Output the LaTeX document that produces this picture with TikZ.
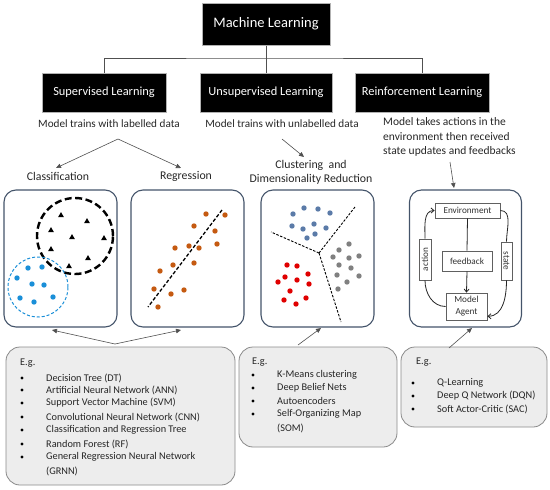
\documentclass[tikz,border=0pt]{standalone}
\usepackage{fontspec}
\setmainfont{Carlito}
\usetikzlibrary{arrows.meta}
\definecolor{panelc}{HTML}{44546A}
\definecolor{bluedot}{HTML}{1A8FD8}
\definecolor{orangedot}{HTML}{C55A11}
\definecolor{slatedot}{HTML}{5B7BA8}
\definecolor{graydot}{HTML}{808080}
\definecolor{reddot}{HTML}{E00000}
\definecolor{egfill}{HTML}{EDEDED}
\definecolor{egborder}{HTML}{8A8A8A}
\definecolor{linec}{HTML}{505050}
\tikzset{
  topbox/.style={fill=black, draw=gray!60, line width=1pt, text=white, inner sep=0pt},
  desc/.style={font=\fontsize{11.2}{14.5}\selectfont, inner sep=0pt, text=black!85},
  lab/.style={font=\fontsize{11.8}{14}\selectfont, inner sep=0pt, text=black!85},
  conn/.style={draw=linec, line width=0.6pt, -{Triangle[length=5pt,width=4.5pt]}},
  panel/.style={draw=panelc, line width=1.1pt, rounded corners=12pt, fill=white, inner sep=0pt},
  rlbox/.style={draw=gray!75!black, line width=0.8pt, fill=white, inner sep=0pt, font=\fontsize{9.2}{11}\selectfont, text=black!80},
  rlarrow/.style={draw=black!85, line width=0.8pt, -{Straight Barb[length=3pt,width=5pt]}},
  egbox/.style={fill=egfill, draw=egborder, line width=0.8pt, rounded corners=14pt, inner sep=0pt},
  item/.style={font=\fontsize{10.3}{11}\selectfont, anchor=west, inner sep=0pt, text=black!85},
}
\begin{document}
\begin{tikzpicture}[x=1pt,y=-1pt]
\useasboundingbox (0,0) rectangle (550,490);

% ---------- top hierarchy ----------
\node[topbox, minimum width=128pt, minimum height=42pt, font=\fontsize{14.5}{16}\selectfont] (ml) at (266,24) {Machine Learning};
\node[topbox, minimum width=124pt, minimum height=39pt, font=\fontsize{12.4}{14}\selectfont] (sup) at (104,92.5) {Supervised Learning};
\node[topbox, minimum width=132pt, minimum height=39pt, font=\fontsize{12.4}{14}\selectfont] (unsup) at (266,92.5) {Unsupervised Learning};
\node[topbox, minimum width=134pt, minimum height=39pt, font=\fontsize{12.4}{14}\selectfont] (rl) at (422,92.5) {Reinforcement Learning};
\coordinate (j) at (266,58);
\draw[linec, line width=0.9pt] (ml.south) -- (j);
\draw[linec, line width=0.9pt] (sup.north) |- (j) -| (rl.north);
\draw[linec, line width=0.9pt] (j) -- (unsup.north);

% ---------- descriptions ----------
\node[desc] (supd) at (109,124) {Model trains with labelled data};
\node[desc] (unsupd) at (282,124) {Model trains with unlabelled data};
\node[desc, font=\fontsize{11.5}{14.5}\selectfont, align=left, anchor=north west] (rld) at (383,117.5) {Model takes actions in the\\environment then received\\state updates and feedbacks};

\node[lab] (cls) at (58,176) {Classification};
\node[lab] (reg) at (186,176) {Regression};
\node[lab, align=center] (clu) at (311,172) {Clustering~ and\\Dimensionality Reduction};

\coordinate (sb) at (118,139);
\coordinate (clsT) at (56,168);
\coordinate (regT) at (181,168);
\draw[conn] (sb) -- (clsT);
\draw[conn] (sb) -- (regT);
\coordinate (ub) at (282,139);
\coordinate (cluT) at (304,157);
\draw[conn] (ub) -- (cluT);
\coordinate (rb) at (450,162);
\coordinate (rlT) at (454,188);
\draw[conn] (rb) -- (rlT);

% ---------- panels ----------
\node[panel, minimum width=113pt, minimum height=137pt] (p1) at (60.5,258.5) {};
\node[panel, minimum width=113pt, minimum height=137pt] (p2) at (187.5,258.5) {};
\node[panel, minimum width=113pt, minimum height=137pt] (p3) at (317.5,258.5) {};
\node[panel, minimum width=112pt, minimum height=137pt] (p4) at (465.5,258.5) {};

% classification
\draw[black, line width=2.4pt, dash pattern=on 7pt off 3.5pt] (75,236) circle (38pt);
\foreach \x/\y in {61/215, 87/221, 51/230, 72/237, 104/238, 51/249, 88/258, 69/266}
  \fill (\x-2.9,\y+2.1) -- (\x+2.9,\y+2.1) -- (\x,\y-2.9) -- cycle;
\draw[bluedot, line width=1pt, dash pattern=on 3pt off 2pt] (38,287) circle (30pt);
\foreach \x/\y in {28/268, 42/267, 17/278, 32/284, 44/285, 20/298, 34/302, 53/297}
  \fill[bluedot] (\x,\y) circle (2.7pt);

% regression
\draw[black, line width=1.3pt, dash pattern=on 3.5pt off 2pt] (222,210) -- (148,307);
\foreach \x/\y in {206/214, 225/215, 194/226, 215/231, 217/244, 175/248, 189/246, 199/248, 173/265, 194/263, 160/271, 154/289, 171/294, 184/290, 158/307}
  \fill[orangedot] (\x,\y) circle (2.7pt);

% clustering
\draw[black, line width=0.9pt, dash pattern=on 2.5pt off 1.5pt] (319,253) -- (355,207);
\draw[black, line width=0.9pt, dash pattern=on 2.5pt off 1.5pt] (319,253) -- (271,232);
\draw[black, line width=0.9pt, dash pattern=on 2.5pt off 1.5pt] (319,253) -- (341,322);
\foreach \x/\y in {293/214, 304/208, 318/209, 330/213, 292/226, 303/229, 314/224, 326/228, 307/238, 315/234}
  \fill[slatedot] (\x,\y) circle (2.7pt);
\foreach \x/\y in {349/244, 339/250, 333/257, 349/258, 359/256, 339/265, 351/268, 337/275, 359/276, 347/282, 338/289}
  \fill[graydot] (\x,\y) circle (2.7pt);
\foreach \x/\y in {287/265, 297/266, 308/274, 285/277, 297/280, 278/282, 309/284, 290/291, 306/298, 284/300, 296/304}
  \fill[reddot] (\x,\y) circle (2.7pt);

% reinforcement
\node[rlbox, minimum width=65pt, minimum height=15pt] (env) at (467.5,210.5) {Environment};
\node[rlbox, minimum width=50pt, minimum height=20pt] (fb) at (467,261) {feedback};
\node[rlbox, minimum width=41pt, minimum height=12pt, rotate=90] (act) at (425,259.5) {action};
\node[rlbox, minimum width=38pt, minimum height=11pt, rotate=-90] (st) at (506.5,261) {state};
\node[rlbox, minimum width=41pt, minimum height=27pt, align=center, font=\fontsize{9.2}{12}\selectfont] (agent) at (466.5,306.5) {Model\\Agent};
\draw[black!85, line width=0.8pt] (env.south) -- (fb.north);
\draw[rlarrow] (fb.south) -- (agent.north);
\draw[black!85, line width=0.8pt] (agent.west) to[out=180, in=-90] (act.west);
\draw[rlarrow] (act.east) to[out=90, in=180] (env.west);
\draw[black!85, line width=0.8pt] (env.east) to[out=0, in=90] (st.west);
\draw[rlarrow] (st.east) to[out=-90, in=0] (agent.-25);

% ---------- example boxes ----------
\node[egbox, minimum width=229pt, minimum height=138pt] (eg1) at (120.5,416) {};
\node[egbox, minimum width=158pt, minimum height=100pt] (eg2) at (318,397) {};
\node[egbox, minimum width=146pt, minimum height=80pt] (eg3) at (474,387) {};

\coordinate (e1b) at (115,344);
\coordinate (p1b) at (52,330);
\coordinate (p2b) at (181,330);
\draw[conn] (e1b) -- (p1b);
\draw[conn] (e1b) -- (p2b);
\coordinate (e2b) at (298,345);
\coordinate (p3b) at (321,328);
\draw[conn] (e2b) -- (p3b);
\coordinate (e3b) at (449,348);
\coordinate (p4b) at (472,328);
\draw[conn] (e3b) -- (p4b);

% list 1
\node[item] (eg1h) at (20,363) {E.g.};
\node[item] (s1) at (46,378) {Decision Tree (DT)};
\node[item] (s2) at (46,390) {Artificial Neural Network (ANN)};
\node[item] (s3) at (46,403) {Support Vector Machine (SVM)};
\node[item] (s4) at (46,417) {Convolutional Neural Network (CNN)};
\node[item] (s5) at (46,430) {Classification and Regression Tree};
\node[item] (s6) at (46,444) {Random Forest (RF)};
\node[item] (s7) at (46,457) {General Regression Neural Network};
\node[item] (s8) at (46,471) {(GRNN)};
\foreach \y in {378,390,403,417,430,444,457}
  \fill (22,\y) circle (1.6pt);

% list 2
\node[item] (eg2h) at (252,362) {E.g.};
\node[item] (u1) at (277,375) {K-Means clustering};
\node[item] (u2) at (277,388) {Deep Belief Nets};
\node[item] (u3) at (277,401) {Autoencoders};
\node[item] (u4) at (277,414) {Self-Organizing Map};
\node[item] (u5) at (277,428) {(SOM)};
\foreach \y in {375,388,401,414}
  \fill (253,\y) circle (1.6pt);

% list 3
\node[item] (eg3h) at (416,362) {E.g.};
\node[item] (r1) at (437,383) {Q-Learning};
\node[item] (r2) at (437,396) {Deep Q Network (DQN)};
\node[item] (r3) at (437,409) {Soft Actor-Critic (SAC)};
\foreach \y in {383,396,409}
  \fill (413,\y) circle (1.6pt);
\end{tikzpicture}
\end{document}
